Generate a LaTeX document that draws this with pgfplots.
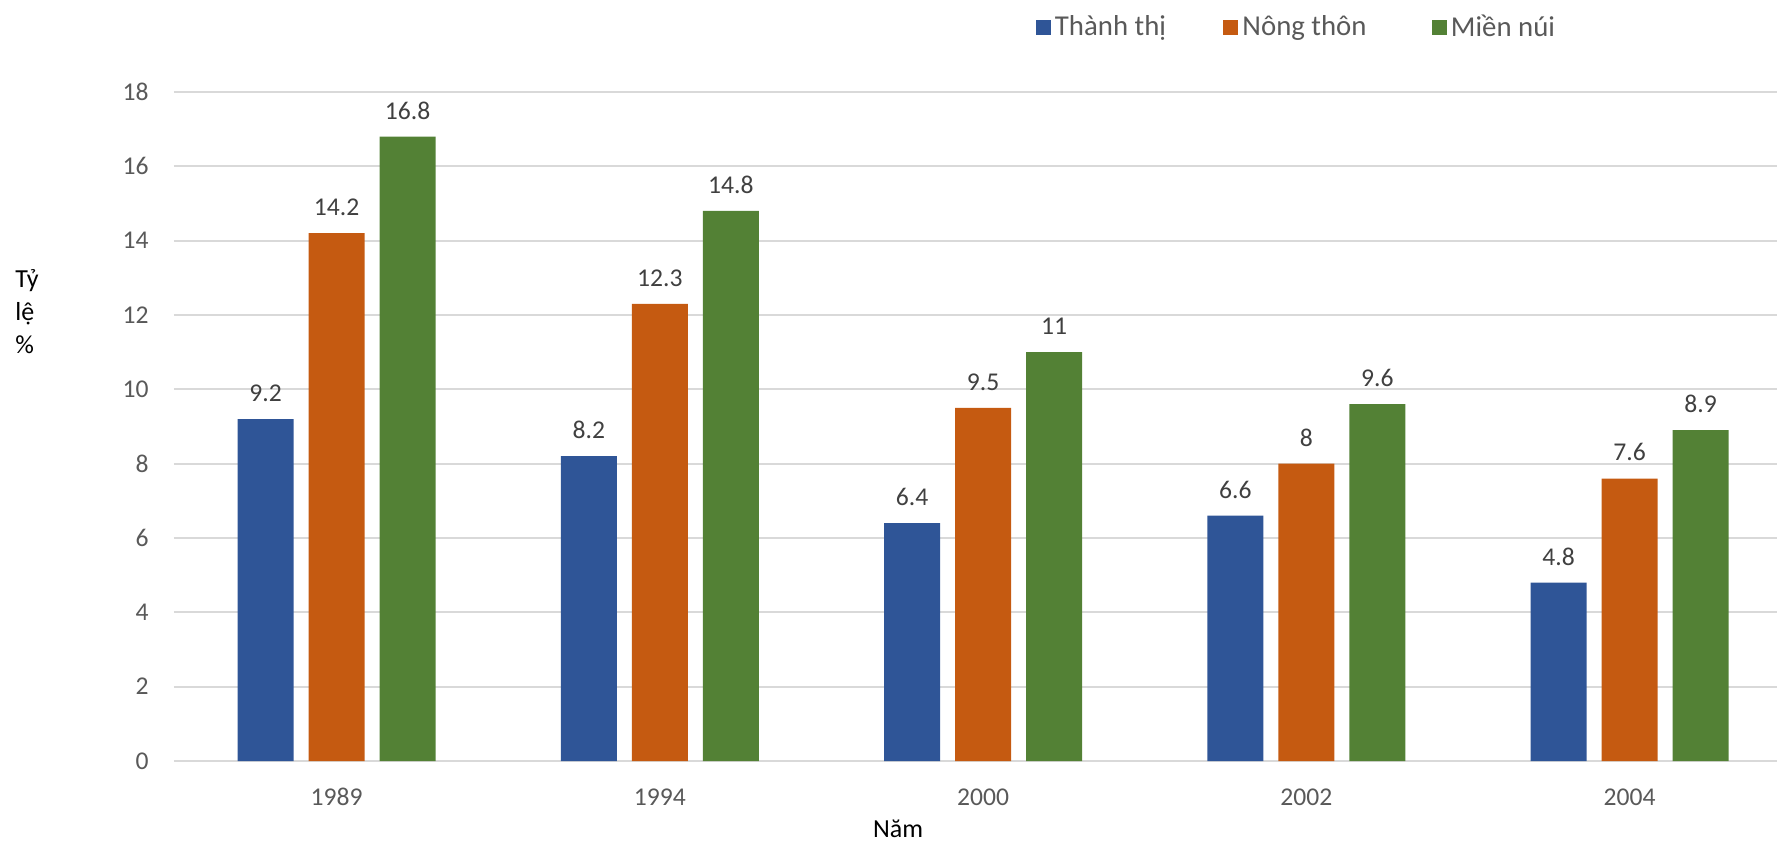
\documentclass[border=0pt]{standalone}
\usepackage{fontspec}
\setmainfont{Carlito}
\usepackage{pgfplots}
\pgfplotsset{compat=1.18}
\definecolor{cblue}{HTML}{2F5597}
\definecolor{corange}{HTML}{C55A11}
\definecolor{cgreen}{HTML}{538135}
\definecolor{gridc}{HTML}{D9D9D9}
\definecolor{tickc}{HTML}{595959}
\definecolor{labc}{HTML}{404040}
\begin{document}
\begin{tikzpicture}
\begin{axis}[
  scale only axis, width=801.5pt, height=334.5pt,
  ybar=7.5pt, bar width=28pt,
  xmin=-0.503, xmax=4.456, ymin=0, ymax=18,
  xtick={0,...,4}, xticklabels={1989,1994,2000,2002,2004},
  ytick={0,2,...,18},
  ymajorgrids, grid style={gridc, line width=1pt},
  axis line style={draw=none},
  major tick length=0pt,
  clip=false,
  /pgf/number format/assume math mode=true,
  font=\fontsize{12.8}{15}\selectfont,
  tick label style={text=tickc},
  xticklabel style={anchor=north, inner sep=0pt, yshift=-13.5pt},
  yticklabel style={anchor=east, inner sep=0pt, xshift=-12.5pt},
  nodes near coords,
  every node near coord/.append style={text=labc, inner sep=0pt, yshift=8.5pt},
  xlabel={Năm},
  xlabel style={at={(axis description cs:0.4517,0)}, anchor=north, inner sep=0pt, yshift=-29.5pt, text=black, font=\fontsize{13}{15}\selectfont},
  ylabel={Tỷ\\lệ\\\%},
  ylabel style={rotate=-90, at={(axis description cs:-0.0992,0.671)}, anchor=west, align=left, inner sep=0pt, text=black, font=\fontsize{13}{16.5}\selectfont},
  legend columns=3,
  legend style={at={(axis description cs:0.5377,1.097)}, anchor=west, draw=none, fill=none, inner sep=0pt, outer sep=0pt, text=tickc, font=\fontsize{14.4}{17}\selectfont,
    /tikz/column 2/.style={column sep=26.7pt}, /tikz/column 4/.style={column sep=30.7pt}},
  legend image code/.code={\fill[#1] (0pt,-3.75pt) rectangle (7.5pt,3.75pt);},
]
\addplot[fill=cblue, draw=none] coordinates {(0,9.2) (1,8.2) (2,6.4) (3,6.6) (4,4.8)};
\addplot[fill=corange, draw=none] coordinates {(0,14.2) (1,12.3) (2,9.5) (3,8) (4,7.6)};
\addplot[fill=cgreen, draw=none] coordinates {(0,16.8) (1,14.8) (2,11) (3,9.6) (4,8.9)};
\legend{Thành thị, Nông thôn, Miền núi}
\end{axis}
\pgfresetboundingbox
\path (current axis.south west) ++(-87pt,-40.5pt) rectangle ++(888.5pt,421pt);
\end{tikzpicture}
\end{document}
